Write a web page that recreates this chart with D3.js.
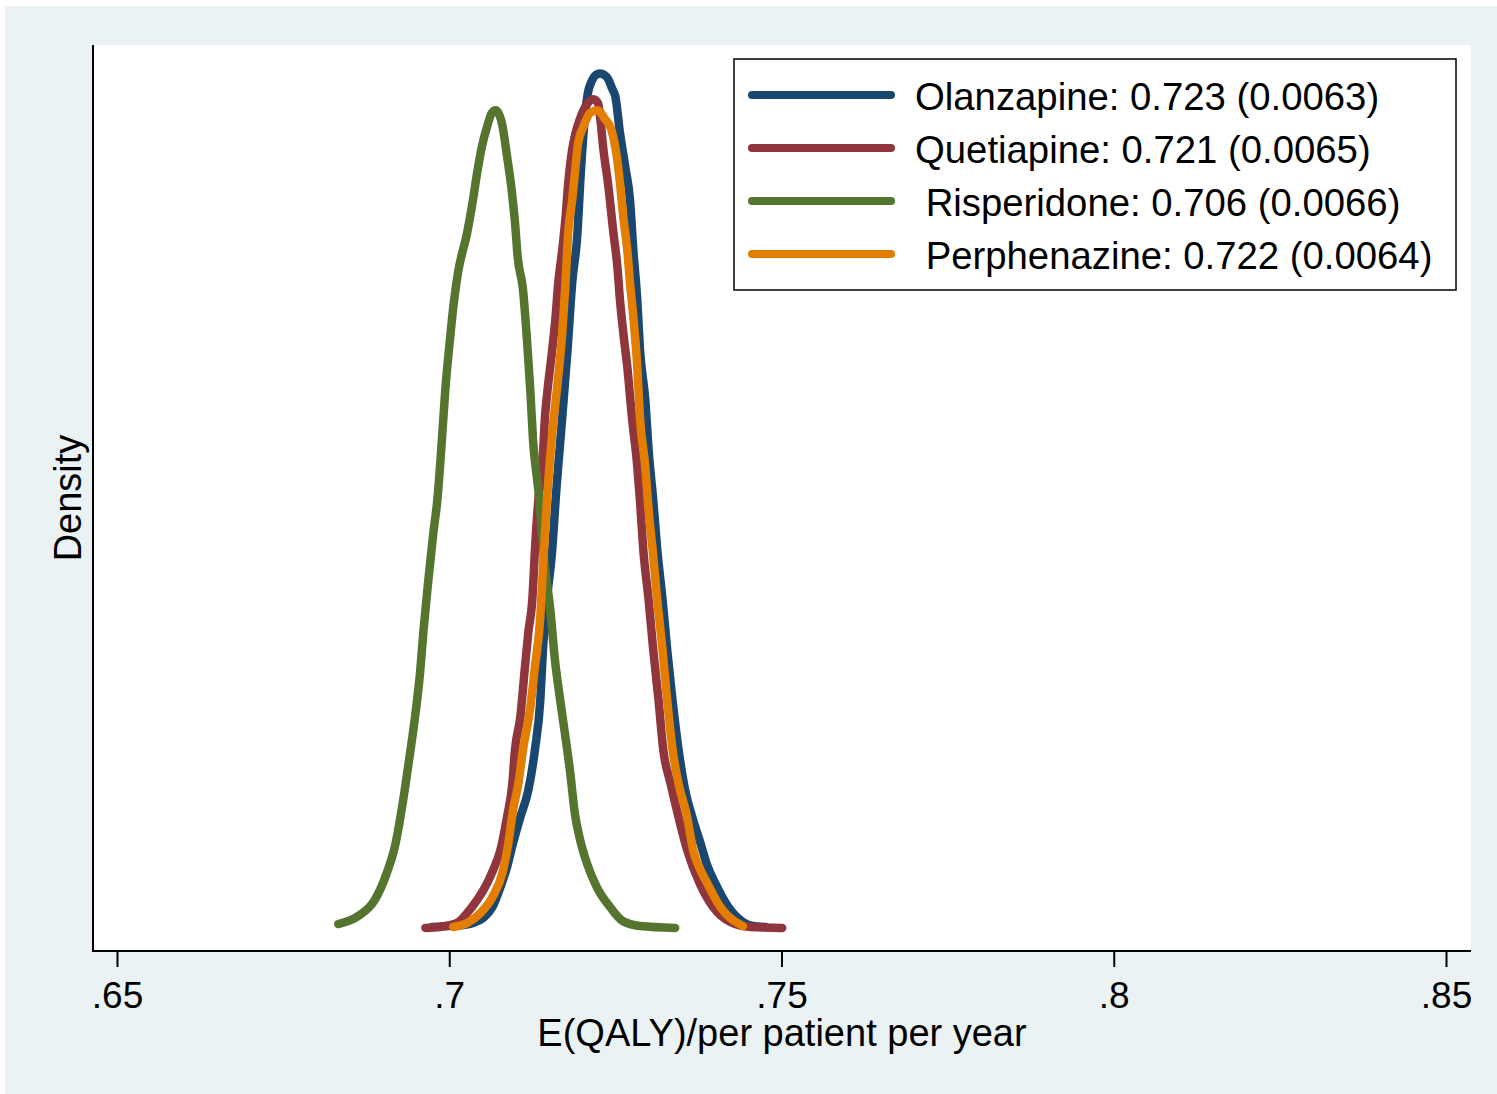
<!DOCTYPE html>
<html>
<head>
<meta charset="utf-8">
<script src="https://cdn.jsdelivr.net/npm/d3@7"></script>
<style>
  body { margin: 0; background: #ffffff; }
  text { font-family: "Liberation Sans", Arial, sans-serif; fill: #000; }
</style>
</head>
<body>
<div id="chart"></div>
<script>
// Kernel density of E(QALY) per patient per year, four drugs

var seriesNames = ["Olanzapine: 0.723 (0.0063)", "Quetiapine: 0.721 (0.0065)", " Risperidone: 0.706 (0.0066)", " Perphenazine: 0.722 (0.0064)"];
var seriesColors = ["#1a476f", "#90353b", "#55752f", "#e37e00"];
var xTicks = [0.65, 0.7, 0.75, 0.8, 0.85];
var xTickLabels = [".65", ".7", ".75", ".8", ".85"];

// [qaly, density]
var olanzapine = [
  [0.6974, 0.44], [0.6997, 0.51], [0.7021, 0.59], [0.7036, 0.74], [0.7051, 1.10], [0.7065, 1.91],
  [0.7077, 3.38], [0.7087, 4.85], [0.7096, 6.62], [0.7107, 8.53], [0.7119, 10.5], [0.7129, 13.5],
  [0.7137, 17.1], [0.7141, 20.8], [0.7147, 24.5], [0.7155, 28.2], [0.7160, 31.8], [0.7170, 37.9],
  [0.7178, 42.9], [0.7185, 47.8], [0.7193, 51.5], [0.7197, 55.1], [0.7202, 58.8], [0.7208, 61.6],
  [0.7215, 62.7], [0.7221, 63.1], [0.7227, 63.2], [0.7233, 63.1], [0.7239, 62.8], [0.7245, 62.1],
  [0.7250, 61.5], [0.7257, 58.8], [0.7265, 56.3], [0.7272, 53.9], [0.7277, 50.2], [0.7283, 46.5],
  [0.7287, 42.9], [0.7295, 39.2], [0.7300, 35.5], [0.7307, 31.8], [0.7313, 28.2], [0.7321, 24.5],
  [0.7328, 20.8], [0.7336, 17.1], [0.7345, 13.5], [0.7355, 10.5], [0.7367, 8.31], [0.7378, 6.62],
  [0.7388, 5.0], [0.7400, 3.68], [0.7420, 1.91], [0.7442, 0.81], [0.7457, 0.51], [0.7476, 0.44]
];
var quetiapine = [
  [0.6964, 0.37], [0.6986, 0.44], [0.7012, 0.74], [0.7027, 1.47], [0.7042, 2.43], [0.7054, 3.38],
  [0.7066, 4.63], [0.7077, 6.10], [0.7087, 8.53], [0.7095, 11.0], [0.7099, 13.5], [0.7107, 15.9],
  [0.7114, 19.6], [0.7119, 22.1], [0.7125, 24.5], [0.7129, 28.2], [0.7134, 31.8], [0.7140, 34.3],
  [0.7144, 37.9], [0.7149, 40.4], [0.7155, 42.9], [0.7160, 45.3], [0.7164, 47.8], [0.7170, 50.2],
  [0.7175, 52.6], [0.7179, 55.1], [0.7185, 57.6], [0.7190, 58.8], [0.7197, 59.9], [0.7208, 61.0],
  [0.7217, 61.3], [0.7224, 61.0], [0.7227, 60.0], [0.7232, 57.6], [0.7239, 55.1], [0.7247, 51.5],
  [0.7253, 49.0], [0.7257, 46.5], [0.7262, 44.1], [0.7268, 41.6], [0.7275, 37.9], [0.7283, 34.3],
  [0.7287, 31.8], [0.7292, 28.2], [0.7300, 24.5], [0.7307, 20.8], [0.7315, 17.1], [0.7322, 13.5],
  [0.7333, 11.0], [0.7345, 8.53], [0.7358, 6.10], [0.7378, 3.53], [0.7397, 1.91], [0.7423, 0.81],
  [0.7453, 0.44], [0.7501, 0.37]
];
var risperidone = [
  [0.6833, 0.66], [0.6863, 1.25], [0.6888, 2.43], [0.6906, 4.41], [0.6918, 6.32], [0.6929, 9.26],
  [0.6938, 12.2], [0.6948, 15.7], [0.6956, 19.1], [0.6961, 22.1], [0.6968, 25.7], [0.6976, 29.4],
  [0.6982, 31.8], [0.6989, 36.3], [0.6994, 39.9], [0.7001, 43.6], [0.7006, 46.0], [0.7013, 48.5],
  [0.7027, 51.5], [0.7034, 53.4], [0.7042, 55.9], [0.7049, 57.8], [0.7057, 59.3], [0.7064, 60.3],
  [0.7070, 60.5], [0.7079, 59.6], [0.7087, 57.1], [0.7094, 54.6], [0.7099, 52.2], [0.7103, 49.7],
  [0.7111, 47.3], [0.7117, 43.6], [0.7122, 39.9], [0.7126, 36.3], [0.7134, 32.6], [0.7144, 26.9],
  [0.7152, 23.8], [0.7159, 20.1], [0.7167, 17.1], [0.7174, 14.7], [0.7182, 11.8], [0.7189, 8.8],
  [0.7197, 6.84], [0.7207, 5.15], [0.7222, 3.38], [0.7242, 1.91], [0.7261, 0.88], [0.7287, 0.51],
  [0.7340, 0.37]
];
var perphenazine = [
  [0.7006, 0.44], [0.7027, 0.74], [0.7047, 1.47], [0.7065, 2.65], [0.7080, 4.41], [0.7089, 6.62],
  [0.7096, 9.04], [0.7104, 11.0], [0.7111, 13.5], [0.7122, 16.6], [0.7129, 19.6], [0.7137, 23.2],
  [0.7141, 26.9], [0.7147, 31.8], [0.7155, 36.8], [0.7163, 40.4], [0.7170, 44.1], [0.7175, 47.8],
  [0.7179, 51.5], [0.7185, 53.9], [0.7190, 56.3], [0.7194, 58.1], [0.7202, 59.3], [0.7212, 60.3],
  [0.7223, 60.5], [0.7235, 59.8], [0.7242, 59.3], [0.7247, 58.5], [0.7253, 56.8], [0.7257, 55.1],
  [0.7262, 52.6], [0.7268, 50.2], [0.7272, 47.8], [0.7277, 45.3], [0.7283, 41.6], [0.7287, 37.9],
  [0.7295, 34.3], [0.7300, 31.1], [0.7306, 28.2], [0.7313, 24.5], [0.7321, 20.8], [0.7328, 17.1],
  [0.7336, 13.5], [0.7345, 11.0], [0.7358, 8.53], [0.7367, 6.10], [0.7378, 4.63], [0.7388, 3.68],
  [0.7408, 1.91], [0.7442, 0.51]
];
var seriesData = [olanzapine, quetiapine, risperidone, perphenazine];

// SVG dimensions
var svgWidth = 1497;
var svgHeight = 1094;

var svg = d3.select("#chart")
  .append("svg")
  .attr("width", svgWidth)
  .attr("height", svgHeight);

// graph region (light bluish grey) and plot region (white)
svg.append("rect")
  .attr("x", 5).attr("y", 6)
  .attr("width", svgWidth - 5).attr("height", svgHeight - 6)
  .attr("fill", "#eaf2f3");

var plot = { left: 93, right: 1471, top: 45, bottom: 951 };

svg.append("rect")
  .attr("x", plot.left).attr("y", plot.top)
  .attr("width", plot.right - plot.left).attr("height", plot.bottom - plot.top)
  .attr("fill", "#ffffff");

// scales
var xScale = d3.scaleLinear().domain([0.65, 0.85]).range([117, 1446]);
var yScale = d3.scaleLinear().domain([0, 65]).range([933, 49]);

// curves
var line = d3.line()
  .x(d => xScale(d[0]))
  .y(d => yScale(d[1]))
  .curve(d3.curveMonotoneX);

svg.append("g").selectAll("path")
  .data(seriesData)
  .enter()
  .append("path")
  .attr("d", line)
  .attr("fill", "none")
  .attr("stroke", (d, i) => seriesColors[i])
  .attr("stroke-width", 8.5)
  .attr("stroke-linejoin", "round")
  .attr("stroke-linecap", "round");

// x axis
var bottomAxis = d3.axisBottom(xScale)
  .tickValues(xTicks)
  .tickFormat((d, i) => xTickLabels[i])
  .tickSizeInner(16)
  .tickSizeOuter(0)
  .tickPadding(6);

var xAxis = svg.append("g")
  .attr("transform", `translate(0,${plot.bottom})`)
  .call(bottomAxis);
xAxis.select(".domain").remove();
xAxis.selectAll(".tick line").attr("stroke", "#000").attr("stroke-width", 2);
xAxis.selectAll(".tick text")
  .attr("font-size", "37px")
  .attr("font-family", "Liberation Sans, Arial, sans-serif")
  .attr("fill", "#000")
  .attr("dy", null)
  .attr("y", 57);

svg.append("line")
  .attr("x1", plot.left - 1).attr("x2", plot.right)
  .attr("y1", plot.bottom).attr("y2", plot.bottom)
  .attr("stroke", "#000").attr("stroke-width", 2);

// y axis (no ticks)
svg.append("line")
  .attr("x1", plot.left).attr("x2", plot.left)
  .attr("y1", plot.top).attr("y2", plot.bottom)
  .attr("stroke", "#000").attr("stroke-width", 2);

// axis titles
svg.append("text")
  .attr("x", (plot.left + plot.right) / 2)
  .attr("y", 1046)
  .attr("text-anchor", "middle")
  .attr("font-size", "38px")
  .text("E(QALY)/per patient per year");

svg.append("text")
  .attr("transform", `translate(81, ${(plot.top + plot.bottom) / 2}) rotate(-90)`)
  .attr("text-anchor", "middle")
  .attr("font-size", "38px")
  .text("Density");

// legend
var legend = svg.append("g");
legend.append("rect")
  .attr("x", 734).attr("y", 59)
  .attr("width", 722).attr("height", 231)
  .attr("fill", "#ffffff")
  .attr("stroke", "#000")
  .attr("stroke-width", 1.5);

var rows = legend.selectAll("g.row")
  .data(seriesNames)
  .enter()
  .append("g")
  .attr("class", "row")
  .attr("transform", (d, i) => `translate(0, ${95 + i * 53})`);

rows.append("line")
  .attr("x1", 752).attr("x2", 891)
  .attr("y1", 0).attr("y2", 0)
  .attr("stroke", (d, i) => seriesColors[i])
  .attr("stroke-width", 8)
  .attr("stroke-linecap", "round");

rows.append("text")
  .attr("x", 915)
  .attr("y", 15)
  .attr("font-size", "38.3px")
  .style("white-space", "pre")
  .text(d => d);
</script>
</body>
</html>
